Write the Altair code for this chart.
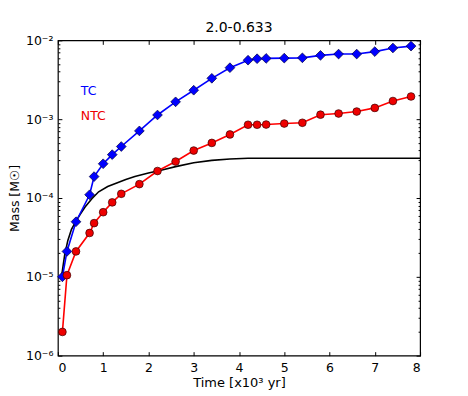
import altair as alt
import pandas as pd

# ---- data ----
time_points = [0.1, 0.2, 0.4, 0.7, 0.8, 1.0, 1.2, 1.4, 1.8, 2.2, 2.6, 3.0, 3.4, 3.8,
               4.2, 4.4, 4.6, 5.0, 5.4, 5.8, 6.2, 6.6, 7.0, 7.4, 7.8]
tc_mass = [1.0e-5, 2.1e-5, 5.0e-5, 1.1e-4, 1.87e-4, 2.72e-4, 3.55e-4, 4.5e-4, 7.1e-4,
           1.13e-3, 1.66e-3, 2.33e-3, 3.3e-3, 4.5e-3, 5.6e-3, 5.85e-3, 5.9e-3, 5.95e-3,
           6.0e-3, 6.45e-3, 6.7e-3, 6.7e-3, 7.2e-3, 8.0e-3, 8.45e-3]
ntc_mass = [2.0e-6, 1.05e-5, 2.1e-5, 3.6e-5, 4.8e-5, 6.6e-5, 8.8e-5, 1.13e-4, 1.5e-4,
            2.2e-4, 2.9e-4, 4.0e-4, 5.0e-4, 6.4e-4, 8.5e-4, 8.5e-4, 8.55e-4, 8.8e-4,
            9.0e-4, 1.14e-3, 1.18e-3, 1.25e-3, 1.39e-3, 1.70e-3, 1.94e-3]
curve_time = [0.08, 0.15, 0.22, 0.3, 0.41, 0.5, 0.6, 0.75, 0.9, 1.1, 1.3, 1.5, 1.7,
              2.0, 2.3, 2.6, 3.0, 3.4, 3.8, 4.2, 5.0, 6.0, 7.0, 8.0]
curve_mass = [1.0e-5, 1.9e-5, 2.9e-5, 4.0e-5, 5.2e-5, 6.3e-5, 7.7e-5, 9.8e-5, 1.2e-4,
              1.4e-4, 1.55e-4, 1.72e-4, 1.87e-4, 2.08e-4, 2.27e-4, 2.5e-4, 2.8e-4,
              3.0e-4, 3.13e-4, 3.2e-4, 3.2e-4, 3.2e-4, 3.2e-4, 3.2e-4]
x_ticks = [0, 1, 2, 3, 4, 5, 6, 7, 8]
y_ticks = [1e-6, 1e-5, 1e-4, 1e-3, 1e-2]
y_tick_labels = ["10⁻⁶", "10⁻⁵", "10⁻⁴", "10⁻³", "10⁻²"]
y_minor = [m * d for d in [1e-6, 1e-5, 1e-4, 1e-3] for m in range(2, 10)]
legend_labels = ["TC", "NTC"]
title_text = "2.0-0.633"

W, H = 363, 316

tc_df = pd.DataFrame({"t": time_points, "m": tc_mass})
ntc_df = pd.DataFrame({"t": time_points, "m": ntc_mass})
curve_df = pd.DataFrame({"t": curve_time, "m": curve_mass})

xscale = alt.Scale(domain=[0, 8], nice=False)
yscale = alt.Scale(type="log", domain=[1e-6, 1e-2], nice=False)

label_expr = "[" + ",".join("'%s'" % s for s in y_tick_labels) + "][round(log(datum.value)/LN10)+6]"


def tick_axis(orient, offset, values, size):
    return alt.Axis(orient=orient, offset=offset, values=values, tickSize=size,
                    labels=False, domain=False, grid=False, title=None,
                    tickColor="black", tickWidth=1)


x_main = alt.Axis(values=x_ticks, tickSize=0, labelPadding=6, domain=False, grid=False,
                  title="Time [x10³ yr]", titleFontSize=13, titleFontWeight="normal",
                  titlePadding=2, labelFontSize=12.5, labelColor="black", titleColor="black")
y_main = alt.Axis(values=y_ticks, tickSize=0, labelPadding=5, domain=False, grid=False,
                  labelExpr=label_expr, title="Mass [M☉]", titleFontSize=12.5,
                  titleFontWeight="normal", titlePadding=4, labelFontSize=12.5,
                  labelColor="black", titleColor="black")

black = alt.Chart(curve_df).mark_line(color="black", strokeWidth=1.6).encode(
    x=alt.X("t:Q", scale=xscale, axis=x_main),
    y=alt.Y("m:Q", scale=yscale, axis=y_main),
)

blue = alt.Chart(tc_df).mark_line(
    color="#0000ff", strokeWidth=1.6,
    point=alt.OverlayMarkDef(shape="diamond", size=95, filled=True, fill="#0000ff",
                             stroke="#00003a", strokeWidth=0.7, opacity=1),
).encode(
    x=alt.X("t:Q", scale=xscale, axis=tick_axis("top", -H, x_ticks, 4)),
    y=alt.Y("m:Q", scale=yscale, axis=tick_axis("right", -W, y_ticks, 4)),
)

red = alt.Chart(ntc_df).mark_line(
    color="#ff0000", strokeWidth=1.6,
    point=alt.OverlayMarkDef(shape="circle", size=60, filled=True, fill="#ee0000",
                             stroke="#3a0000", strokeWidth=0.7, opacity=1),
).encode(
    x=alt.X("t:Q", scale=xscale, axis=tick_axis("bottom", -H, x_ticks, 4)),
    y=alt.Y("m:Q", scale=yscale, axis=tick_axis("right", -W, y_minor, 2)),
)

ghost1 = alt.Chart(curve_df).mark_line(opacity=0).encode(
    x=alt.X("t:Q", scale=xscale, axis=None),
    y=alt.Y("m:Q", scale=yscale, axis=tick_axis("left", -W, y_ticks, 4)),
)
ghost2 = alt.Chart(curve_df).mark_line(opacity=0).encode(
    x=alt.X("t:Q", scale=xscale, axis=None),
    y=alt.Y("m:Q", scale=yscale, axis=tick_axis("left", -W, y_minor, 2)),
)

tc_text = alt.Chart(pd.DataFrame({"label": [legend_labels[0]]})).mark_text(
    align="left", baseline="middle", fontSize=12.5, color="#0000ff"
).encode(text="label:N", x=alt.value(23), y=alt.value(51))
ntc_text = alt.Chart(pd.DataFrame({"label": [legend_labels[1]]})).mark_text(
    align="left", baseline="middle", fontSize=12.5, color="#ee0000"
).encode(text="label:N", x=alt.value(23), y=alt.value(76))

chart = alt.layer(black, blue, red, ghost1, ghost2, tc_text, ntc_text).resolve_axis(
    x="independent", y="independent"
).properties(
    width=W, height=H,
    title=alt.TitleParams(title_text, fontSize=14, fontWeight="normal", color="black",
                          offset=-1, anchor="middle"),
    autosize=alt.AutoSizeParams(type="none"),
    padding={"left": 50, "top": 32, "right": 40, "bottom": 36},
).configure(font="DejaVu Sans").configure_title(fontWeight="normal").configure_view(
    stroke="black", strokeWidth=1.2)

chart.save("out.html", embed_options={"renderer": "svg", "actions": False})
